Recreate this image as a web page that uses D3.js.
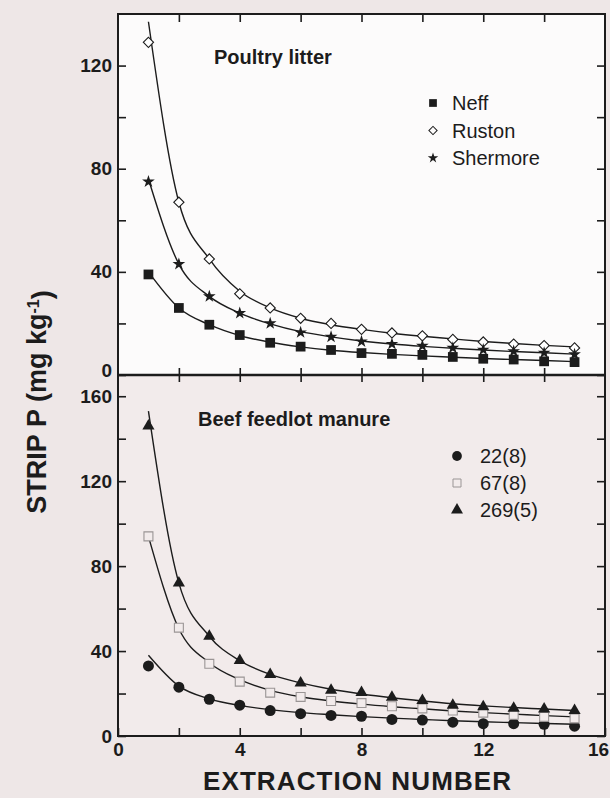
<!DOCTYPE html>
<html>
<head>
<meta charset="utf-8">
<script src="https://cdnjs.cloudflare.com/ajax/libs/d3/7.8.5/d3.min.js"></script>
<style>
  body { margin: 0; background: #eee7e7; }
  text { font-family: "Liberation Sans", Arial, sans-serif; fill: #1c1c1c; }
  .tick text { font-size: 19px; font-weight: bold; fill: #1c1c1c; }
  .tick line { stroke: #1c1c1c; stroke-width: 1.6; }
  .title { font-size: 20px; font-weight: bold; }
  .legend { font-size: 20px; }
  .label { font-size: 26px; font-weight: bold; }
</style>
</head>
<body>
<div id="chart"></div>
<script>

// extraction number (x)
var extraction = [1, 2, 3, 4, 5, 6, 7, 8, 9, 10, 11, 12, 13, 14, 15];

// poultry litter, strip P (mg/kg)
var neff     = [39, 26, 19.5, 15.5, 12.5, 11, 9.7, 8.5, 8.2, 7.8, 7, 6.3, 6, 5.3, 5];
var ruston   = [129, 67, 45, 31.5, 26, 22, 20, 17.7, 16.3, 15.2, 13.8, 12.8, 12, 11.4, 10.5];
var shermore = [75, 43, 30.5, 24, 20, 16.5, 14.8, 13, 12, 11.3, 10.5, 9.8, 9.2, 8.6, 8];

// fitted curves as drawn in the figure
var neffFit     = [40, 26, 19.5, 15.3, 12.7, 10.9, 9.6, 8.7, 8, 7.4, 6.9, 6.4, 6, 5.6, 5.2];
var rustonFit   = [137, 67, 45, 32.5, 26, 22, 19.5, 17.7, 16.2, 15, 14, 13, 12.2, 11.5, 10.9];
var shermoreFit = [76, 43, 30.5, 24, 19.8, 16.8, 14.8, 13.2, 12, 11.1, 10.4, 9.7, 9.1, 8.6, 8.1];

// beef feedlot manure, strip P (mg/kg)
var beef22  = [33, 23, 17.3, 14.5, 12, 10.5, 9.7, 9.3, 7.8, 7.5, 6.5, 5.8, 5.8, 5.5, 4.6];
var beef67  = [94, 51, 34, 25.6, 20.4, 18.4, 16.5, 15.5, 14, 13, 12, 11, 10, 9, 8.3];
var beef269 = [146, 72, 47, 35.5, 29, 25, 21.5, 20.5, 18.2, 16.7, 14.5, 13.8, 13.1, 12.7, 12];

var beef22Fit  = [38, 23.5, 17.5, 14.4, 12.4, 11, 10, 9.1, 8.4, 7.8, 7.2, 6.7, 6.3, 5.9, 5.5];
var beef67Fit  = [94, 50.5, 34.5, 26.5, 21.5, 18.5, 16.5, 15, 13.8, 12.8, 11.8, 11, 10.3, 9.6, 9];
var beef269Fit = [153, 72, 47, 35.5, 29, 25, 22, 19.8, 18, 16.5, 15.2, 14.2, 13.4, 12.7, 12];

// ticks
var xTicks = [0, 2, 4, 6, 8, 10, 12, 14, 16];
var xInner = [2, 4, 6, 8, 10, 12, 14];
var yTopTicks = [0, 20, 40, 60, 80, 100, 120];
var yBotTicks = [0, 20, 40, 60, 80, 100, 120, 140, 160];

var ink = "#1c1c1c";
var frame = {left: 118, right: 605, top: 14, mid: 375, bottom: 736};

var svg = d3.select("#chart")
  .append("svg")
    .attr("width", 610)
    .attr("height", 798);

var x = d3.scaleLinear().domain([0, 16]).range([frame.left, frame.right]);
var yTop = d3.scaleLinear().domain([0, 140]).range([frame.mid, frame.top]);
var yBot = d3.scaleLinear().domain([0, 170]).range([frame.bottom, frame.mid]);

// panel backgrounds
svg.append("rect")
  .attr("x", frame.left).attr("y", frame.top)
  .attr("width", frame.right - frame.left).attr("height", frame.mid - frame.top)
  .style("fill", "#fcfbfb");
svg.append("rect")
  .attr("x", frame.left).attr("y", frame.mid)
  .attr("width", frame.right - frame.left).attr("height", frame.bottom - frame.mid)
  .style("fill", "#f2ebeb");

var fmt40 = function(d){ return d % 40 === 0 ? d : ""; };
var fmt4 = function(d){ return d % 4 === 0 ? d : ""; };
var none = function(){ return ""; };

var axes = svg.append("g").classed("axes", true);

// left axes (ticks inside, labels outside)
axes.append("g")
  .attr("transform", "translate(" + frame.left + ",0)")
  .call(d3.axisLeft(yTop).tickValues(yTopTicks).tickSize(-8).tickPadding(6).tickFormat(fmt40))
  .selectAll(".tick text")
    .filter(function(d){ return d === 0; })
    .attr("dy", "0.1em");
axes.append("g")
  .attr("transform", "translate(" + frame.left + ",0)")
  .call(d3.axisLeft(yBot).tickValues(yBotTicks).tickSize(-8).tickPadding(6).tickFormat(fmt40));

// right axes
axes.append("g")
  .attr("transform", "translate(" + frame.right + ",0)")
  .call(d3.axisRight(yTop).tickValues(yTopTicks).tickSize(-8).tickFormat(none));
axes.append("g")
  .attr("transform", "translate(" + frame.right + ",0)")
  .call(d3.axisRight(yBot).tickValues(yBotTicks).tickSize(-8).tickFormat(none));

// top edge, divider (both ways) and bottom axis
axes.append("g")
  .attr("transform", "translate(0," + frame.top + ")")
  .call(d3.axisTop(x).tickValues(xInner).tickSize(-8).tickFormat(none));
axes.append("g")
  .attr("transform", "translate(0," + frame.mid + ")")
  .call(d3.axisBottom(x).tickValues(xInner).tickSize(-7).tickFormat(none));
axes.append("g")
  .attr("transform", "translate(0," + frame.mid + ")")
  .call(d3.axisTop(x).tickValues(xInner).tickSize(-7).tickFormat(none));
axes.append("g")
  .attr("transform", "translate(0," + frame.bottom + ")")
  .call(d3.axisBottom(x).tickValues(xTicks).tickSize(-8).tickPadding(7).tickFormat(fmt4))
  .selectAll(".tick text")
    .filter(function(d){ return d === 16; })
    .attr("dx", "-7");

axes.selectAll(".domain").remove();
axes.selectAll(".tick text").style("fill", ink);
axes.selectAll(".tick line").style("stroke", ink);

// frames
svg.append("rect")
  .attr("x", frame.left).attr("y", frame.top)
  .attr("width", frame.right - frame.left).attr("height", frame.bottom - frame.top)
  .style("fill", "none").style("stroke", ink).style("stroke-width", 2);
svg.append("line")
  .attr("x1", frame.left).attr("x2", frame.right)
  .attr("y1", frame.mid).attr("y2", frame.mid)
  .style("stroke", ink).style("stroke-width", 2.4);

var poultry = [
  {name: "Neff", values: neff, fit: neffFit, type: d3.symbolSquare, size: 95, rot: 0, fill: ink, stroke: "none", lsize: 60},
  {name: "Ruston", values: ruston, fit: rustonFit, type: d3.symbolSquare, size: 52, rot: 45, fill: "#fff", stroke: ink, lsize: 34},
  {name: "Shermore", values: shermore, fit: shermoreFit, type: d3.symbolStar, size: 50, rot: 0, fill: ink, stroke: "none", lsize: 34}
];
var beef = [
  {name: "22(8)", values: beef22, fit: beef22Fit, type: d3.symbolCircle, size: 95, rot: 0, fill: ink, stroke: "none", lsize: 75},
  {name: "67(8)", values: beef67, fit: beef67Fit, type: d3.symbolSquare, size: 80, rot: 0, fill: "#f2ebeb", stroke: "#9a9595", lsize: 64},
  {name: "269(5)", values: beef269, fit: beef269Fit, type: d3.symbolTriangle, size: 64, rot: 0, fill: ink, stroke: "none", lsize: 62}
];

var drawPanel = function(series, y){
  var g = svg.append("g");
  var line = d3.line()
    .x(function(d, i){ return x(extraction[i]); })
    .y(function(d){ return y(d); })
    .curve(d3.curveMonotoneX);

  series.forEach(function(s){
    g.append("path")
      .attr("d", line(s.fit))
      .style("fill", "none")
      .style("stroke", ink)
      .style("stroke-width", 1.4);
  });

  series.forEach(function(s){
    g.append("g")
      .selectAll("path")
      .data(s.values)
      .enter()
      .append("path")
        .attr("d", d3.symbol().type(s.type).size(s.size))
        .attr("transform", function(d, i){
          return "translate(" + x(extraction[i]) + "," + y(d) + ") rotate(" + s.rot + ")";
        })
        .style("fill", s.fill)
        .style("stroke", s.stroke)
        .style("stroke-width", 1.1);
  });
};

drawPanel(poultry, yTop);
drawPanel(beef, yBot);

// legends
var drawLegend = function(series, mx, tx, y0, step, bg){
  var g = svg.append("g").classed("legend-box", true);
  series.forEach(function(s, i){
    var by = y0 + i * step;
    g.append("path")
      .attr("d", d3.symbol().type(s.type).size(s.lsize))
      .attr("transform", "translate(" + mx + "," + (by - 7) + ") rotate(" + s.rot + ")")
      .style("fill", s.fill === ink ? ink : bg)
      .style("stroke", s.stroke)
      .style("stroke-width", 1);
    g.append("text")
      .classed("legend", true)
      .attr("x", tx)
      .attr("y", by)
      .text(s.name);
  });
};
drawLegend(poultry, 433, 452, 110, 27.5, "#fcfbfb");
drawLegend(beef, 457, 480, 463, 27, "#f2ebeb");

// titles and axis labels
var labels = svg.append("g").classed("labels", true);

labels.append("text")
  .classed("title", true)
  .attr("x", 214)
  .attr("y", 64)
  .text("Poultry litter");

labels.append("text")
  .classed("title", true)
  .attr("x", 198)
  .attr("y", 426)
  .text("Beef feedlot manure");

labels.append("text")
  .classed("label", true)
  .attr("text-anchor", "middle")
  .attr("x", 357)
  .attr("y", 790)
  .attr("textLength", 308)
  .text("EXTRACTION NUMBER");

var ylab = labels.append("text")
  .classed("label", true)
  .style("font-size", "27px")
  .attr("text-anchor", "middle")
  .attr("transform", "translate(46,402) rotate(-90)");
ylab.append("tspan").text("STRIP P (mg kg");
ylab.append("tspan").attr("dy", "-0.45em").style("font-size", "16px").text("-1");
ylab.append("tspan").attr("dy", "0.45em").text(")");

</script>
</body>
</html>
